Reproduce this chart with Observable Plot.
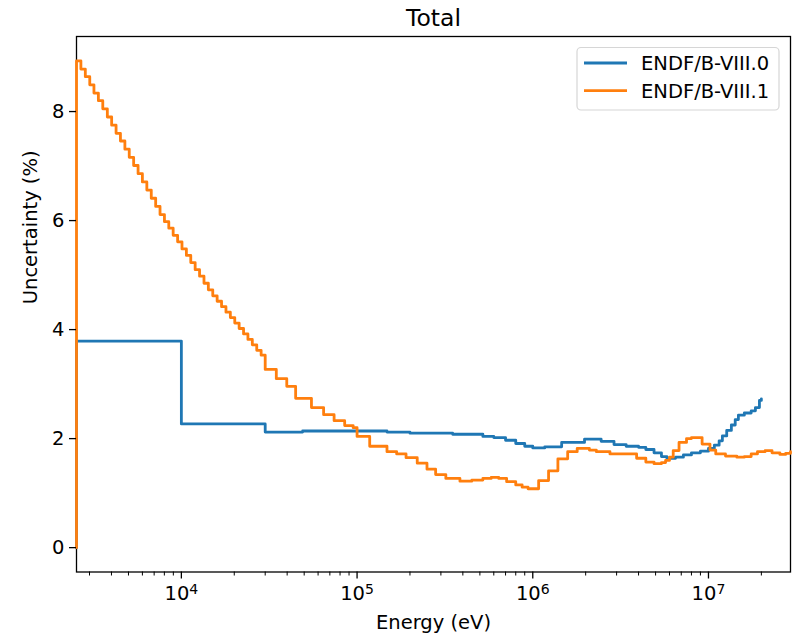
<!DOCTYPE html>
<html><head><meta charset="utf-8">
<script src="https://cdn.jsdelivr.net/npm/d3@7"></script>
<script src="https://cdn.jsdelivr.net/npm/@observablehq/plot@0.6"></script>
<style>body{margin:0;background:#fff} #chart{width:797px;height:635px}</style>
</head><body><div id="chart"></div>
<script>
const titleText = "Total";
const xLabel = "Energy (eV)";
const yLabel = "Uncertainty (%)";
const seriesNames = ["ENDF/B-VIII.0", "ENDF/B-VIII.1"];
const seriesColors = ["#1f77b4", "#ff7f0e"];
const yTicks = [0, 2, 4, 6, 8];
const xMajorTicks = [1e4, 1e5, 1e6, 1e7];
const xDomain = [2530, 2.93e7];
const yDomain = [-0.447, 9.377];

const energyV0 = [2530, 2530, 10000, 30000, 49000, 148000, 200000, 350000, 520000, 600000, 700000, 800000, 900000, 1000000, 1170000, 1460000, 1970000, 2450000, 2900000, 3400000, 4000000, 4400000, 4900000, 5400000, 5800000, 6500000, 7200000, 8000000, 9000000, 10000000, 10800000, 11500000, 12000000, 12700000, 13500000, 14200000, 14800000, 16000000, 17500000, 18500000, 19500000, 20000000];
const uncV0 = [0, 3.79, 2.27, 2.12, 2.14, 2.12, 2.10, 2.08, 2.04, 2.02, 1.97, 1.91, 1.86, 1.83, 1.85, 1.93, 1.99, 1.95, 1.89, 1.86, 1.84, 1.80, 1.74, 1.67, 1.64, 1.66, 1.70, 1.74, 1.77, 1.82, 1.88, 1.96, 2.05, 2.15, 2.25, 2.35, 2.43, 2.47, 2.51, 2.57, 2.70, 2.73];

const energyV1 = [2530, 2530, 2680, 2840, 3010, 3180, 3370, 3570, 3790, 4010, 4250, 4500, 4770, 5050, 5350, 5670, 6000, 6360, 6740, 7140, 7560, 8010, 8480, 8980, 9520, 10080, 10680, 11310, 11980, 12690, 13450, 14240, 15090, 15980, 16930, 17940, 19000, 20130, 21320, 22590, 23920, 25340, 26850, 28440, 30000, 34700, 39800, 44700, 55000, 64500, 74000, 85000, 95000, 100000, 118000, 148000, 168000, 190000, 220000, 250000, 280000, 320000, 385000, 450000, 520000, 580000, 640000, 710000, 800000, 870000, 940000, 1080000, 1230000, 1390000, 1580000, 1790000, 2100000, 2300000, 2750000, 3900000, 4400000, 4900000, 5400000, 5700000, 6000000, 6300000, 6800000, 7500000, 8000000, 9200000, 10200000, 11000000, 12500000, 14500000, 16000000, 17500000, 19000000, 21000000, 23000000, 25500000, 27500000, 29300000];
const uncV1 = [0, 8.93, 8.78, 8.64, 8.49, 8.34, 8.20, 8.05, 7.90, 7.75, 7.60, 7.46, 7.31, 7.16, 7.01, 6.86, 6.71, 6.56, 6.41, 6.26, 6.11, 5.98, 5.86, 5.73, 5.61, 5.48, 5.36, 5.23, 5.10, 4.98, 4.85, 4.73, 4.62, 4.52, 4.42, 4.32, 4.22, 4.12, 4.02, 3.92, 3.82, 3.72, 3.62, 3.53, 3.27, 3.10, 2.96, 2.74, 2.57, 2.44, 2.33, 2.24, 2.20, 2.04, 1.86, 1.76, 1.72, 1.65, 1.55, 1.44, 1.34, 1.27, 1.22, 1.24, 1.27, 1.29, 1.27, 1.21, 1.15, 1.11, 1.08, 1.23, 1.41, 1.63, 1.76, 1.82, 1.79, 1.76, 1.72, 1.64, 1.57, 1.54, 1.56, 1.60, 1.66, 1.78, 1.93, 2.00, 2.02, 1.90, 1.79, 1.72, 1.68, 1.66, 1.67, 1.72, 1.76, 1.78, 1.74, 1.71, 1.73, 1.76];

const zip = (es, us) => es.slice(0, Math.min(es.length, us.length)).map((e, i) => ({e, u: us[i]}));
const d0 = zip(energyV0, uncV0);
const d1 = zip(energyV1, uncV1);

const xMinorTicks = [];
for (let p = 3; p <= 7; p++) for (let m = 2; m <= 9; m++) {
  const v = m * Math.pow(10, p);
  if (v >= xDomain[0] && v <= xDomain[1]) xMinorTicks.push(v);
}

const FONT = "'DejaVu Sans', sans-serif";
const FS = 19.5;
const plot = Plot.plot({
  width: 797, height: 635,
  marginLeft: 76, marginRight: 7, marginTop: 36, marginBottom: 63.5,
  style: {fontFamily: FONT, fontSize: FS + "px", color: "#000", background: "#fff", overflow: "visible"},
  x: {type: "log", domain: xDomain},
  y: {domain: yDomain},
  marks: [
    Plot.frame({stroke: "#000", strokeWidth: 1.3}),
    Plot.line(d0, {x: "e", y: "u", curve: "step-after", stroke: seriesColors[0], strokeWidth: 2.8}),
    Plot.line(d1, {x: "e", y: "u", curve: "step-after", stroke: seriesColors[1], strokeWidth: 2.8}),
    Plot.axisY(yTicks, {tickSize: 7, tickPadding: 5, label: null, strokeWidth: 1.3, fontSize: FS, tickFormat: d => String(d)}),
    Plot.axisX(xMinorTicks, {tickSize: 4, tickFormat: () => "", label: null, strokeWidth: 1}),
    Plot.axisX(xMajorTicks, {tickSize: 7, tickPadding: 7, label: null, strokeWidth: 1.3, fontSize: FS,
      tickFormat: d => "10^" + Math.round(Math.log10(d))}),
    Plot.text([titleText], {frameAnchor: "top", dy: -27, fontSize: 23.5}),
    Plot.text([yLabel], {frameAnchor: "left", dx: -46, rotate: -90, fontSize: FS}),
    Plot.text([xLabel], {frameAnchor: "bottom", dy: 56.5, fontSize: FS})
  ]
});
document.getElementById("chart").appendChild(plot);

const svg = d3.select(plot);
// superscript exponents on x tick labels
svg.selectAll("text").each(function() {
  const t = this.textContent;
  const m = /^10\^(\d+)$/.exec(t);
  if (m) {
    const sel = d3.select(this);
    sel.text(null);
    sel.append("tspan").text("10");
    sel.append("tspan").attr("dy", "-0.42em").attr("font-size", "0.72em").text(m[1]);
  }
});

// legend
const lg = svg.append("g").attr("font-family", FONT).attr("font-size", FS).attr("text-anchor", "start");
lg.append("rect").attr("x", 577).attr("y", 47.5).attr("width", 202).attr("height", 62.5)
  .attr("rx", 4).attr("fill", "#fff").attr("fill-opacity", 0.8).attr("stroke", "#d6d6d6").attr("stroke-width", 1.2);
seriesNames.forEach((name, i) => {
  const cy = 63 + i * 27.7;
  lg.append("line").attr("x1", 584).attr("x2", 627).attr("y1", cy).attr("y2", cy)
    .attr("stroke", seriesColors[i]).attr("stroke-width", 2.8);
  lg.append("text").attr("x", 641).attr("y", cy).attr("dy", "0.36em").attr("fill", "#000").attr("text-anchor", "start").text(name);
});
</script>
</body></html>
